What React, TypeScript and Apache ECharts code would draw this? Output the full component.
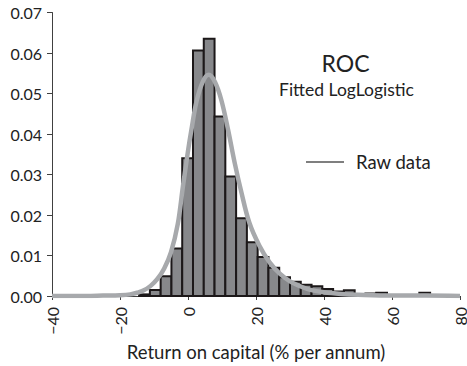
import React, { useEffect, useRef } from "react";
import * as echarts from "echarts";

// Histogram bins (left edges, % per annum) and densities
const binStarts = [-14.38, -11.21, -8.04, -4.87, -1.7, 1.47, 4.64, 7.81, 10.98, 14.15, 17.32, 20.49, 23.66, 26.83, 30.0, 33.17, 36.34, 39.51, 42.68, 45.85, 49.02, 52.19, 55.36, 58.53, 61.7, 64.87, 68.04, 71.21, 74.38];
const binWidth = 3.17;
const densities = [0.0004, 0.0015, 0.0049, 0.0117, 0.034, 0.0606, 0.0635, 0.0443, 0.0295, 0.0192, 0.0133, 0.0096, 0.007, 0.0046, 0.0035, 0.0028, 0.0024, 0.0017, 0.0011, 0.0014, 0.0005, 0.0006, 0.0008, 0.0001, 0.0001, 0.0002, 0.0008, 0.0001, 0.0001];

// Fitted curve points
const curveX = [-40, -30, -25, -20, -17, -15, -13, -11, -9, -7, -5, -3, -1.5, 0, 1, 2.5, 4.4, 6.1, 7.9, 9.8, 11.8, 13.7, 15.7, 18, 21, 24, 27, 30, 33, 36, 40, 45, 50, 60, 70, 80];
const curveY = [0, 0, 0.0001, 0.0002, 0.0004, 0.0008, 0.0014, 0.0025, 0.0042, 0.0068, 0.0108, 0.0178, 0.027, 0.0358, 0.041, 0.048, 0.053, 0.0546, 0.0529, 0.0484, 0.041, 0.033, 0.0256, 0.0182, 0.0124, 0.0083, 0.0055, 0.0036, 0.0024, 0.0015, 0.0009, 0.0005, 0.0003, 0.0001, 0.0001, 0];

const xTicks = { min: -40, max: 80, interval: 20 };
const yTicks = { min: 0, max: 0.07, interval: 0.01 };

const FONT = "Lato, 'Open Sans', sans-serif";

export default function App() {
  const ref = useRef<HTMLDivElement>(null);
  useEffect(() => {
    if (!ref.current) return;
    const chart = echarts.init(ref.current, undefined, { renderer: "svg" });
    chart.setOption({
      animation: false,
      backgroundColor: "#ffffff",
      textStyle: { fontFamily: FONT },
      grid: { left: 52, top: 12.5, right: 7, bottom: 70, containLabel: false, outerBoundsMode: "none" },
      xAxis: {
        type: "value",
        min: xTicks.min,
        max: xTicks.max,
        interval: xTicks.interval,
        name: "Return on capital (% per annum)",
        nameLocation: "middle",
        nameGap: 46,
        nameTextStyle: { fontSize: 18.5, color: "#222", fontFamily: FONT },
        axisLine: { show: true, onZero: false, lineStyle: { color: "#404040", width: 1 } },
        axisTick: { show: true, length: 4, lineStyle: { color: "#404040" } },
        splitLine: { show: false },
        axisLabel: {
          rotate: 90,
          margin: 11,
          fontSize: 16,
          lineHeight: 12,
          color: "#222",
          fontFamily: FONT,
          formatter: (v: number) => (v < 0 ? "\u2212" + Math.abs(v) : String(v)),
        },
      },
      yAxis: {
        type: "value",
        min: yTicks.min,
        max: yTicks.max,
        interval: yTicks.interval,
        axisLine: { show: true, onZero: false, lineStyle: { color: "#404040", width: 1 } },
        axisTick: { show: true, length: 5, lineStyle: { color: "#404040" } },
        splitLine: { show: false },
        axisLabel: {
          margin: 10,
          fontSize: 16,
          color: "#222",
          fontFamily: FONT,
          formatter: (v: number) => v.toFixed(2),
        },
      },
      graphic: [
        { type: "text", x: 345.5, y: 62.5, style: { text: "ROC", fontSize: 23, fontFamily: FONT, fill: "#222", textAlign: "center", textVerticalAlign: "middle" } },
        { type: "text", x: 346.5, y: 89, style: { text: "Fitted LogLogistic", fontSize: 17.5, fontFamily: FONT, fill: "#222", textAlign: "center", textVerticalAlign: "middle" } },
        { type: "line", shape: { x1: 306, y1: 162, x2: 344, y2: 162 }, style: { stroke: "#7f7f7f", lineWidth: 2 } },
        { type: "text", x: 356, y: 162, style: { text: "Raw data", fontSize: 18.5, fontFamily: FONT, fill: "#222", textAlign: "left", textVerticalAlign: "middle" } },
      ],
      series: [
        {
          type: "custom",
          name: "Histogram",
          z: 2,
          encode: { x: [0, 1], y: 2 },
          data: binStarts.map((s, i) => [s, s + binWidth, densities[i]]),
          renderItem: (params: any, api: any) => {
            const p0 = api.coord([api.value(0), api.value(2)]);
            const p1 = api.coord([api.value(1), 0]);
            return {
              type: "rect",
              shape: { x: p0[0], y: p0[1], width: p1[0] - p0[0], height: p1[1] - p0[1] },
              style: { fill: "#87888b", stroke: "#1c1819", lineWidth: 2 },
            };
          },
        },
        {
          type: "line",
          name: "Raw data",
          z: 3,
          smooth: 0.35,
          symbol: "none",
          data: curveX.map((x, i) => [x, curveY[i]]),
          lineStyle: { color: "#a7a9ac", width: 4.5 },
          itemStyle: { color: "#a7a9ac" },
        },
      ],
    });
    return () => chart.dispose();
  }, []);
  return <div ref={ref} style={{ position: "fixed", left: 0, top: 0, width: 467, height: 366 }} />;
}
